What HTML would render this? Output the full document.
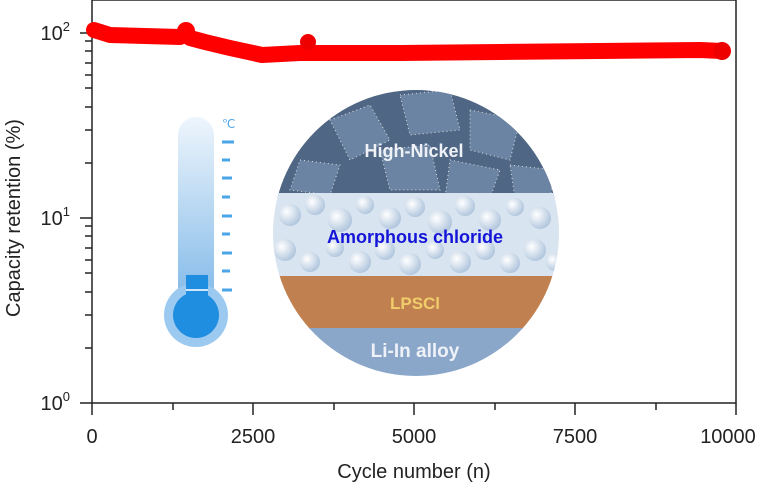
<!DOCTYPE html><html><head><style>body{margin:0;background:#fff}svg{display:block}text{font-family:"Liberation Sans",sans-serif}</style></head><body>
<svg width="768" height="488" viewBox="0 0 768 488">
<defs>
<clipPath id="c"><circle cx="416" cy="233" r="143"/></clipPath>
<linearGradient id="t" x1="0" y1="0" x2="0" y2="1"><stop offset="0" stop-color="#eef5fc"/><stop offset="1" stop-color="#7fb8e8"/></linearGradient>
<radialGradient id="s" cx="0.35" cy="0.35" r="0.7"><stop offset="0" stop-color="#fff"/><stop offset="1" stop-color="#aec4dc"/></radialGradient>
</defs>
<rect x="92" y="0" width="644" height="403" fill="none" stroke="#222" stroke-width="1.5"/>
<g stroke="#222" stroke-width="1.5">
<line x1="80" y1="33" x2="92" y2="33"/><line x1="80" y1="218" x2="92" y2="218"/><line x1="80" y1="403" x2="92" y2="403"/>
<line x1="85" y1="41" x2="92" y2="41"/><line x1="85" y1="51" x2="92" y2="51"/><line x1="85" y1="63" x2="92" y2="63"/><line x1="85" y1="75" x2="92" y2="75"/><line x1="85" y1="88" x2="92" y2="88"/><line x1="85" y1="107" x2="92" y2="107"/><line x1="85" y1="130" x2="92" y2="130"/><line x1="85" y1="163" x2="92" y2="163"/>
<line x1="85" y1="226" x2="92" y2="226"/><line x1="85" y1="236" x2="92" y2="236"/><line x1="85" y1="248" x2="92" y2="248"/><line x1="85" y1="260" x2="92" y2="260"/><line x1="85" y1="273" x2="92" y2="273"/><line x1="85" y1="292" x2="92" y2="292"/><line x1="85" y1="315" x2="92" y2="315"/><line x1="85" y1="348" x2="92" y2="348"/>
<line x1="92" y1="403" x2="92" y2="415"/><line x1="253" y1="403" x2="253" y2="415"/><line x1="414" y1="403" x2="414" y2="415"/><line x1="575" y1="403" x2="575" y2="415"/><line x1="736" y1="403" x2="736" y2="415"/>
<line x1="173" y1="403" x2="173" y2="410"/><line x1="334" y1="403" x2="334" y2="410"/><line x1="495" y1="403" x2="495" y2="410"/><line x1="656" y1="403" x2="656" y2="410"/>
</g>
<g font-size="20" fill="#222" text-anchor="end">
<text x="70" y="40">10<tspan font-size="13" dy="-9">2</tspan></text>
<text x="70" y="225">10<tspan font-size="13" dy="-9">1</tspan></text>
<text x="70" y="410">10<tspan font-size="13" dy="-9">0</tspan></text>
</g>
<g font-size="20" fill="#222" text-anchor="middle">
<text x="92" y="443">0</text><text x="253" y="443">2500</text><text x="414" y="443">5000</text><text x="575" y="443">7500</text><text x="728" y="443">10000</text>
<text x="414" y="478">Cycle number (n)</text>
</g>
<text transform="translate(20,218) rotate(-90)" font-size="20" fill="#222" text-anchor="middle">Capacity retention (%)</text>
<polyline points="94,30 110,35 180,37 185,34 190,38 205,42 230,48 262,55 300,53 400,53 500,52 600,51 700,50 722,51" fill="none" stroke="#f00" stroke-width="16" stroke-linejoin="round" stroke-linecap="round"/>
<circle cx="186" cy="31" r="9" fill="#f00"/><circle cx="308" cy="42" r="8" fill="#e00"/><circle cx="722" cy="51" r="9" fill="#e00"/>
<rect x="178" y="117" width="36" height="190" rx="18" fill="url(#t)"/>
<circle cx="196" cy="315" r="32" fill="#9cc9f0"/>
<circle cx="196" cy="315" r="23" fill="#1f8ee0"/>
<rect x="186" y="275" width="22" height="35" fill="#1f8ee0"/>
<line x1="186" y1="290" x2="208" y2="290" stroke="#cfe6fa" stroke-width="2"/>
<g stroke="#4aa6e8" stroke-width="3"><line x1="222" y1="142" x2="234" y2="142"/><line x1="222" y1="160" x2="230" y2="160"/><line x1="222" y1="178" x2="232" y2="178"/><line x1="222" y1="197" x2="230" y2="197"/><line x1="222" y1="216" x2="232" y2="216"/><line x1="222" y1="234" x2="230" y2="234"/><line x1="222" y1="253" x2="232" y2="253"/><line x1="222" y1="271" x2="230" y2="271"/><line x1="222" y1="290" x2="232" y2="290"/></g>
<text x="222" y="128" font-size="12" fill="#4aa6e8">℃</text>
<g clip-path="url(#c)">
<rect x="270" y="88" width="295" height="110" fill="#4f6685"/>
<g fill="#6c84a3" stroke="#ddd" stroke-dasharray="1 3" stroke-width="1">
<polygon points="330,120 370,105 390,140 350,160"/><polygon points="400,95 450,90 460,130 410,135"/><polygon points="470,110 520,120 510,160 470,150"/><polygon points="300,160 340,165 330,195 290,190"/><polygon points="380,150 430,145 440,190 390,190"/><polygon points="450,160 500,170 490,198 445,198"/><polygon points="510,165 555,170 550,198 515,198"/>
</g>
<rect x="270" y="193" width="295" height="84" fill="#d8e4f0"/>
<g fill="url(#s)">
<circle cx="290" cy="215" r="11"/><circle cx="315" cy="205" r="10"/><circle cx="340" cy="220" r="12"/><circle cx="365" cy="205" r="9"/><circle cx="390" cy="218" r="11"/><circle cx="415" cy="207" r="10"/><circle cx="440" cy="222" r="12"/><circle cx="465" cy="206" r="10"/><circle cx="490" cy="220" r="11"/><circle cx="515" cy="207" r="9"/><circle cx="540" cy="218" r="11"/>
<circle cx="285" cy="250" r="11"/><circle cx="310" cy="262" r="10"/><circle cx="335" cy="248" r="9"/><circle cx="360" cy="262" r="11"/><circle cx="385" cy="250" r="10"/><circle cx="410" cy="264" r="11"/><circle cx="435" cy="250" r="9"/><circle cx="460" cy="262" r="11"/><circle cx="485" cy="250" r="10"/><circle cx="510" cy="263" r="10"/><circle cx="535" cy="250" r="11"/><circle cx="555" cy="262" r="9"/>
</g>
<rect x="270" y="276" width="295" height="53" fill="#c0804f"/>
<rect x="270" y="328" width="295" height="50" fill="#8aa6c8"/>
</g>
<g font-weight="bold" text-anchor="middle" font-size="18">
<text x="414" y="157" fill="#eef2f6">High-Nickel</text>
<text x="415" y="243" fill="#1515d8">Amorphous chloride</text>
<text x="415" y="309" fill="#f0cc6a" font-size="17">LPSCl</text>
<text x="415" y="357" fill="#eef2f8" font-size="19">Li-In alloy</text>
</g>
</svg></body></html>
